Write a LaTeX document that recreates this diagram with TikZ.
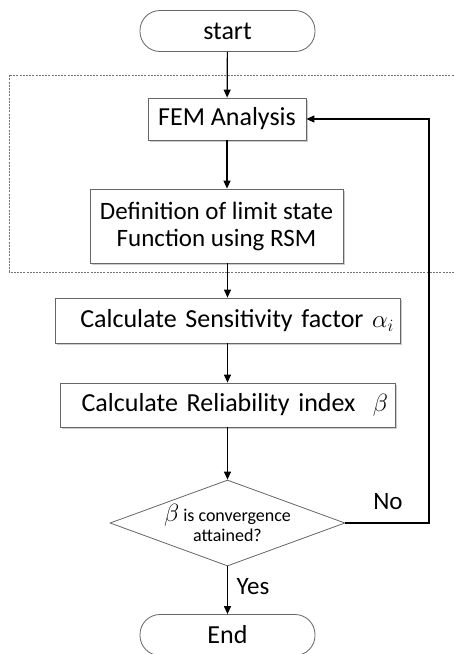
\documentclass[tikz,border=0pt]{standalone}
\usepackage{fontspec}
\setmainfont{Carlito}
\usetikzlibrary{shapes.geometric,shadows,arrows.meta}
\begin{document}
\begin{tikzpicture}[x=1pt,y=-1pt,
  big/.style={font=\fontsize{26}{28}\selectfont},
  boxbase/.style={draw=black!60, line width=0.8pt, fill=white,
    drop shadow={shadow xshift=2pt, shadow yshift=-2pt, fill=black!20, opacity=1}},
  procbox/.style={boxbase, rectangle, big, inner sep=0pt},
  term/.style={draw=black!60, line width=0.8pt, fill=white, rectangle, rounded corners=20pt,
    big, inner sep=0pt, minimum width=175pt, minimum height=41pt},
  decision/.style={draw=black!60, line width=0.8pt, fill=white, diamond, aspect=2.73,
    inner sep=0pt, minimum width=235pt, minimum height=86pt,
    font=\fontsize{18}{20}\selectfont, align=center},
  arr/.style={line width=1.2pt, -{Triangle[length=8pt,width=7pt]}},
  lbl/.style={font=\fontsize{25}{28}\selectfont, inner sep=0pt},
  frame/.style={draw=black!55, line width=0.6pt, dash pattern=on 2pt off 1.2pt}
]
\useasboundingbox (0,0) rectangle (453,654);
\fill[white] (0,0) rectangle (453,654);

% dashed frame (open to the right edge)
\draw[frame] (460,75) -| (9,272) -- (460,272);

\node[term] (start) at (227.5,31) {start};
\node[procbox, minimum width=158pt, minimum height=42pt] (fem) at (227,119) {FEM Analysis};
\node[procbox, minimum width=253pt, minimum height=74pt, align=center,
      font=\fontsize{25}{27}\selectfont] (def) at (216.5,226)
      {Definition of limit state\\Function using RSM};
\node[procbox, minimum width=345pt, minimum height=45pt, text width=333pt,
      align=right, inner xsep=6pt] (sens) at (227.5,320.5)
      {Calculate Sensitivity factor $\alpha_{i}$};
\node[procbox, minimum width=335pt, minimum height=44pt, text width=321pt,
      align=right, inner xsep=7pt] (rel) at (227.5,405)
      {Calculate Reliability index\ \ $\beta$};
\node[decision] (dia) at (227.5,523)
      {{\fontsize{25}{20}\selectfont$\beta$} is convergence\\attained?};
\node[term] (end) at (227.5,635) {End};

\coordinate (fb) at (429,119);

\draw[arr] (start) -- (fem);
\draw[arr] (fem) -- (fem |- def.north);
\draw[arr] (def.south -| sens.north) -- (sens);
\draw[arr] (sens) -- (rel);
\draw[arr] (rel) -- (dia);
\draw[arr] (dia) -- (end);
\draw[arr] (dia.east) -| (fb) -- (fem.east);

\node[lbl] (no) at (388,502) {No};
\node[lbl] (yes) at (253,587) {Yes};
\end{tikzpicture}
\end{document}
